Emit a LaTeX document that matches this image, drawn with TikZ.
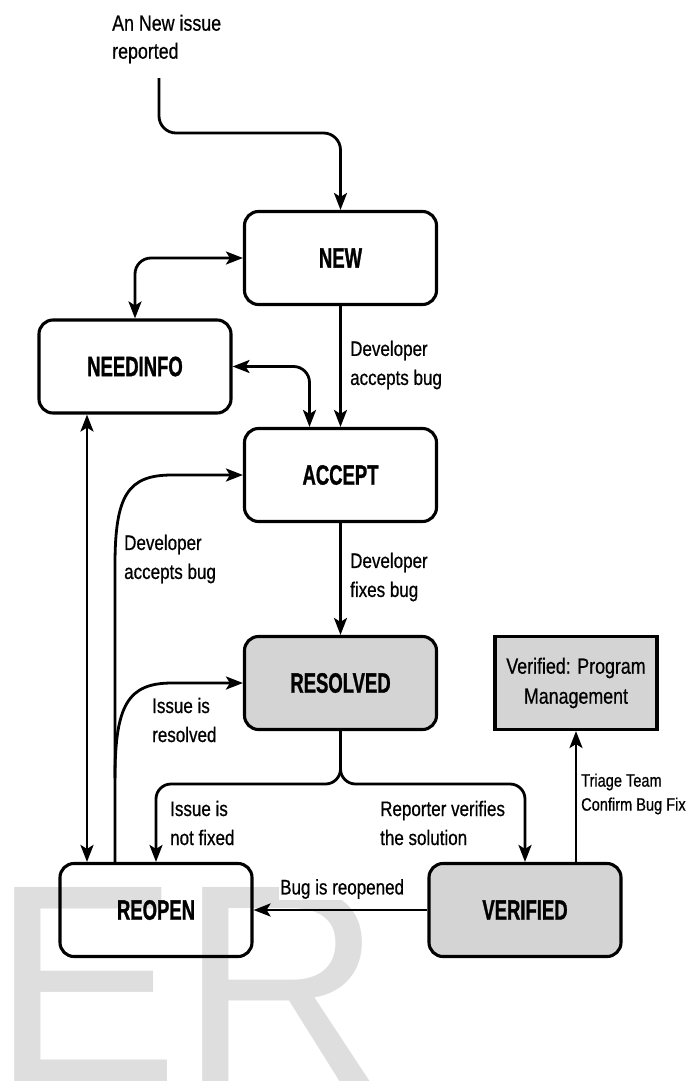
\documentclass[tikz,border=0pt]{standalone}
\usepackage{fontspec}
\usetikzlibrary{arrows.meta}
\newfontfamily\labfont[FakeStretch=0.81,FakeBold=0.6]{Liberation Sans}
\newfontfamily\boxfont[FakeStretch=0.66,FakeBold=1]{Liberation Sans}
\newfontfamily\wmfont{Liberation Sans}
\definecolor{boxgray}{RGB}{212,212,212}
\definecolor{wmgray}{RGB}{222,222,222}
\begin{document}
\begin{tikzpicture}[x=1pt,y=-1pt,
  state/.style={draw, line width=3.1pt, rounded corners=14pt, minimum width=192pt, minimum height=93pt,
    font=\boxfont\bfseries\fontsize{28}{30}\selectfont, inner sep=0pt},
  grayfill/.style={fill=boxgray},
  conn/.style={line width=2.8pt, -{Stealth[length=17pt,width=13pt,inset=4pt]}},
  bidir/.style={line width=2.8pt, {Stealth[length=17pt,width=13pt,inset=4pt]}-{Stealth[length=17pt,width=13pt,inset=4pt]}},
  lab/.style={font=\labfont\fontsize{21}{29}\selectfont, align=left, fill=white, inner sep=1pt, anchor=west},
]
\useasboundingbox (0,0) rectangle (687,1082);
% watermark
\node[anchor=base west, inner sep=0pt, text=wmgray, font=\wmfont\fontsize{282}{282}\selectfont] (wm) at (-9,1081) {ER};

% states
\node[state] (new) at (340.5,258) {NEW};
\node[state] (needinfo) at (135,366.5) {NEEDINFO};
\node[state] (accept) at (340.5,475) {ACCEPT};
\node[state, grayfill] (resolved) at (340.5,683) {RESOLVED};
\node[draw, line width=3.1pt, fill=boxgray, minimum width=162pt, minimum height=93pt, align=center,
  inner sep=0pt, font=\labfont\fontsize{22}{30}\selectfont] (pm) at (576,683) {Verified: Program\\Management};
\node[state] (reopen) at (156,910) {REOPEN};
\node[state, grayfill] (verified) at (525,910) {VERIFIED};

% start
\node[lab, font=\labfont\fontsize{22}{28}\selectfont, fill=none] (start) at (111,39) {An New issue\\reported};
\coordinate (s0) at (159,78);
\coordinate (s1) at (159,133);
\draw[conn, rounded corners=17pt] (s0) -- (s1) -| (new.north);

% connectors
\draw[bidir, rounded corners=16pt] (new.west) -| (needinfo.north);
\draw[conn] (new.south) -- (accept.north);
\draw[bidir, rounded corners=16pt] (needinfo.east) -| ([xshift=-31pt]accept.north);
\draw[conn] (accept.south) -- (resolved.north);
\draw[conn] ([xshift=-41pt]reopen.north) -- (115,565) .. controls (115,495) and (128,475) .. (172,475) -- (accept.west);
\coordinate (b1) at (115,778);
\draw[conn] (b1) .. controls (115,705) and (128,683) .. (172,683) -- (resolved.west);
\draw[bidir] ([xshift=-48pt]needinfo.south) -- ([xshift=-69pt]reopen.north);
\coordinate (j) at (340.5,784);
\draw[conn, rounded corners=15pt] (resolved.south) -- (j) -| (reopen.north);
\draw[conn, rounded corners=15pt] (resolved.south) -- (j) -| (verified.north);
\draw[conn] (verified.west) -- (reopen.east);
\draw[conn] (verified.north -| pm.south) -- (pm.south);

% labels
\node[lab] (l1) at (349,365) {Developer\\accepts bug};
\node[lab] (l2) at (349,577) {Developer\\fixes bug};
\node[lab] (l3) at (123,559) {Developer\\accepts bug};
\node[lab] (l4) at (151,720) {Issue is\\resolved};
\node[lab] (l5) at (169,823) {Issue is\\not fixed};
\node[lab] (l6) at (379,823) {Reporter verifies\\the solution};
\node[lab] (l7) at (279,889) {Bug is reopened};
\node[lab, font=\labfont\fontsize{18}{24}\selectfont] (l8) at (580,794) {Triage Team\\Confirm Bug Fix};
\end{tikzpicture}
\end{document}
